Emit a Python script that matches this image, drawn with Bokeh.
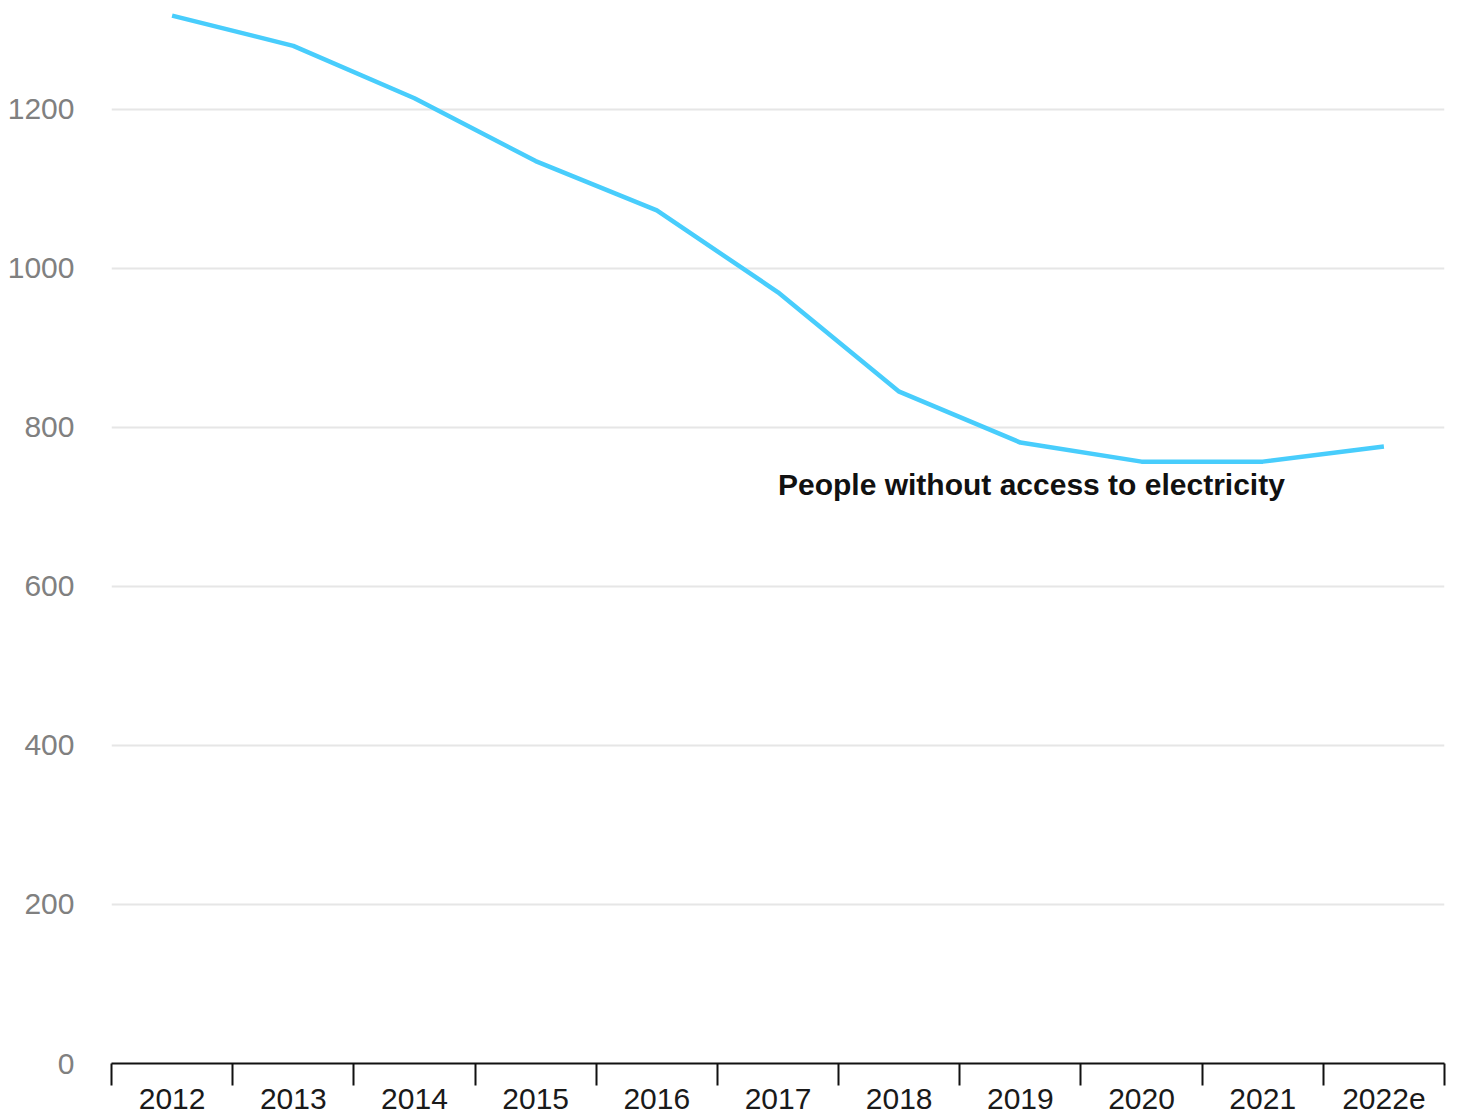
from bokeh.plotting import figure
from bokeh.models import FixedTicker, Range1d, ColumnDataSource, Label
from bokeh.embed import file_html
from bokeh.resources import INLINE

years = ["2012", "2013", "2014", "2015", "2016", "2017", "2018", "2019", "2020", "2021", "2022e"]
people = [1318, 1280, 1214, 1135, 1073, 970, 845, 781, 757, 757, 776]
y_ticks = [0, 200, 400, 600, 800, 1000, 1200]
series_label = "People without access to electricity"
label_year = "2017"
label_value = 728

n = len(years)
centers = [i + 0.5 for i in range(n)]
bounds = [float(i) for i in range(n + 1)]

p = figure(frame_width=1333, frame_height=1063, output_backend="svg", toolbar_location=None,
           x_range=Range1d(0, n), y_range=Range1d(0, 1337),
           min_border_left=111, min_border_right=14, min_border_top=0, min_border_bottom=52)
p.outline_line_color = None
p.background_fill_color = "white"
p.border_fill_color = "white"

src = ColumnDataSource(dict(x=centers, y=people))
p.line("x", "y", source=src, line_color="#48cdfc", line_width=4.5)

font = "Liberation Sans"
xa = p.xaxis[0]
xa.ticker = FixedTicker(ticks=centers, minor_ticks=bounds)
xa.major_label_overrides = {c: y for c, y in zip(centers, years)}
xa.major_tick_out = 0
xa.major_tick_in = 0
xa.minor_tick_out = 22
xa.minor_tick_in = 0
xa.minor_tick_line_width = 2
xa.minor_tick_line_color = "#111111"
xa.axis_line_width = 2
xa.axis_line_color = "#111111"
xa.major_label_text_font = font
xa.major_label_text_font_size = "30px"
xa.major_label_text_color = "#1a1a1a"
xa.major_label_standoff = 3

ya = p.yaxis[0]
ya.ticker = FixedTicker(ticks=y_ticks)
ya.axis_line_color = None
ya.major_tick_line_color = None
ya.minor_tick_line_color = None
ya.major_tick_out = 0
ya.major_label_standoff = 37
ya.major_label_text_font = font
ya.major_label_text_font_size = "30px"
ya.major_label_text_color = "#808080"

p.xgrid.grid_line_color = None
p.ygrid.ticker = FixedTicker(ticks=y_ticks[1:])
p.ygrid.grid_line_color = "#e6e6e6"
p.ygrid.grid_line_width = 2

p.add_layout(Label(x=years.index(label_year) + 0.5, y=label_value, text=series_label,
                   text_font=font, text_font_style="bold", text_font_size="30px",
                   text_color="#111111", text_baseline="middle", text_align="left"))

open("out.html", "w").write(file_html(p, INLINE))
